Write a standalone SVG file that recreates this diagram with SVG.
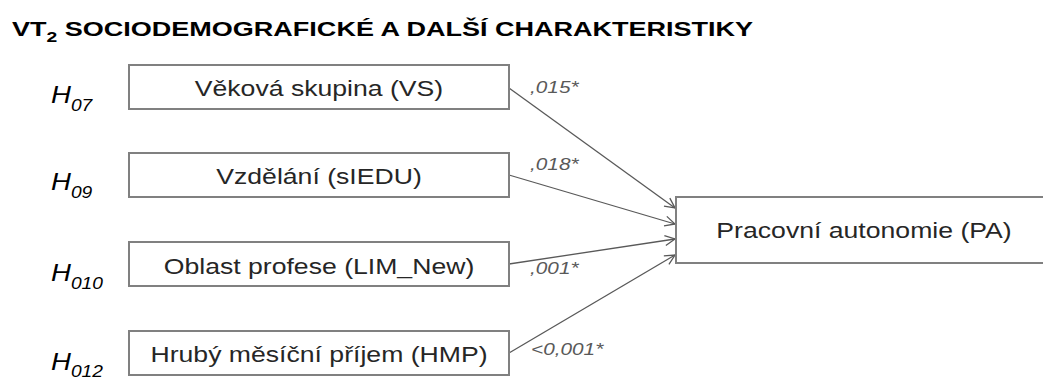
<svg xmlns="http://www.w3.org/2000/svg" width="1043" height="379" viewBox="0 0 1043 379">
  <style>
    .title { font: bold 21px "Liberation Sans", Arial, sans-serif; fill: #000; }
    .box { fill: #fff; stroke: #808080; stroke-width: 2; }
    .lbl { font: 22px "Liberation Sans", Arial, sans-serif; fill: #262626; text-anchor: middle; }
    .hyp { font: italic 23px "Liberation Sans", Arial, sans-serif; fill: #000; }
    .hyp .sub { font-size: 16px; }
    .pval { font: italic 16px "Liberation Sans", Arial, sans-serif; fill: #595959; }
    .edge { fill: none; stroke: #595959; stroke-width: 1.3; marker-end: url(#open); }
  </style>
  <defs>
    <marker id="open" markerUnits="userSpaceOnUse" markerWidth="14" markerHeight="14" refX="11" refY="6" orient="auto">
      <path d="M1,1 L11,6 L1,11" fill="none" stroke="#595959" stroke-width="1.3"/>
    </marker>
  </defs>

  <!-- heading (wide lettering via horizontal scale) -->
  <g transform="translate(12,36) scale(1.287,1)">
    <text class="title" x="0" y="0">VT<tspan font-size="15" dy="6">2</tspan><tspan dy="-6"> SOCIODEMOGRAFICKÉ A DALŠÍ CHARAKTERISTIKY</tspan></text>
  </g>

  <!-- connectors -->
  <g id="connectors">
    <line class="edge" x1="509" y1="88" x2="675" y2="208"/>
    <line class="edge" x1="509" y1="175" x2="675" y2="224"/>
    <line class="edge" x1="509" y1="264" x2="675" y2="239"/>
    <line class="edge" x1="509" y1="353" x2="675" y2="255"/>
    <g transform="translate(530,93) scale(1.3,1)"><text class="pval">,015*</text></g>
    <g transform="translate(530,170) scale(1.3,1)"><text class="pval">,018*</text></g>
    <g transform="translate(530,274) scale(1.3,1)"><text class="pval">,001*</text></g>
    <g transform="translate(531,355) scale(1.3,1)"><text class="pval">&lt;0,001*</text></g>
  </g>

  <!-- predictors -->
  <g id="vs">
    <rect class="box" x="129" y="65" width="380" height="44"/>
    <g transform="translate(319,96) scale(1.21,1)"><text class="lbl">Věková skupina (VS)</text></g>
    <g transform="translate(51,103) scale(1.2,1)"><text class="hyp">H<tspan class="sub" dy="8">07</tspan></text></g>
  </g>
  <g id="sledu">
    <rect class="box" x="129" y="153" width="380" height="44"/>
    <g transform="translate(319,184) scale(1.21,1)"><text class="lbl">Vzdělání (sIEDU)</text></g>
    <g transform="translate(51,190) scale(1.2,1)"><text class="hyp">H<tspan class="sub" dy="8">09</tspan></text></g>
  </g>
  <g id="lim-new">
    <rect class="box" x="129" y="242" width="380" height="44"/>
    <g transform="translate(319,274) scale(1.21,1)"><text class="lbl">Oblast profese (LIM_New)</text></g>
    <g transform="translate(51,281) scale(1.2,1)"><text class="hyp">H<tspan class="sub" dy="8">010</tspan></text></g>
  </g>
  <g id="hmp">
    <rect class="box" x="129" y="331" width="380" height="44"/>
    <g transform="translate(319,362) scale(1.21,1)"><text class="lbl">Hrubý měsíční příjem (HMP)</text></g>
    <g transform="translate(51,370) scale(1.2,1)"><text class="hyp">H<tspan class="sub" dy="7">012</tspan></text></g>
  </g>

  <!-- outcome -->
  <g id="pa">
    <rect class="box" x="676" y="197" width="380" height="66"/>
    <g transform="translate(864,238) scale(1.21,1)"><text class="lbl">Pracovní autonomie (PA)</text></g>
  </g>
</svg>
